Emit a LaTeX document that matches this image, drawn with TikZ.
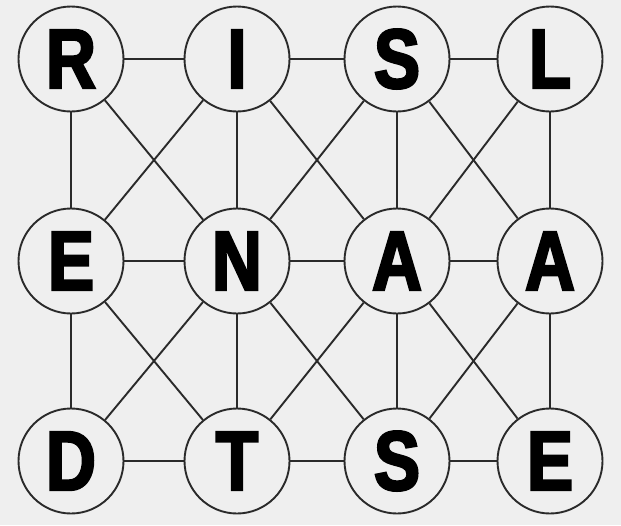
\documentclass[tikz,border=0pt]{standalone}
\usepackage{fontspec}
\newfontfamily\lettfont[FakeStretch=0.82,FakeBold=3]{Liberation Sans Bold}
\definecolor{bg}{HTML}{EFEFEF}
\definecolor{ink}{HTML}{2A2A2A}
\begin{document}
\begin{tikzpicture}[x=1pt,y=-1pt,
  letter/.style={circle,draw=ink,line width=1.9pt,fill=bg,minimum size=105pt,inner sep=0pt,
    text=black,font=\lettfont\fontsize{84}{84}\selectfont},
  edge/.style={draw=ink,line width=1.9pt}]
\fill[bg] (0,0) rectangle (621,525);
\useasboundingbox (0,0) rectangle (621,525);
\def\cA{71}\def\cB{237}\def\cC{397}\def\cD{550}
\def\rA{59}\def\rB{261}\def\rC{461}
\node[letter] (r) at (\cA,\rA) {R};
\node[letter] (i) at (\cB,\rA) {I};
\node[letter] (s1) at (\cC,\rA) {S};
\node[letter] (l) at (\cD,\rA) {L};
\node[letter] (e1) at (\cA,\rB) {E};
\node[letter] (n) at (\cB,\rB) {N};
\node[letter] (a1) at (\cC,\rB) {A};
\node[letter] (a2) at (\cD,\rB) {A};
\node[letter] (d) at (\cA,\rC) {D};
\node[letter] (t) at (\cB,\rC) {T};
\node[letter] (s2) at (\cC,\rC) {S};
\node[letter] (e2) at (\cD,\rC) {E};
\foreach \p/\q in {r/i,i/s1,s1/l,e1/n,n/a1,a1/a2,d/t,t/s2,s2/e2,
  r/e1,e1/d,i/n,n/t,s1/a1,a1/s2,l/a2,a2/e2,
  r/n,i/e1,i/a1,s1/n,s1/a2,l/a1,
  e1/t,n/d,n/s2,a1/t,a1/e2,a2/s2}
  \draw[edge] (\p) -- (\q);
\end{tikzpicture}
\end{document}
